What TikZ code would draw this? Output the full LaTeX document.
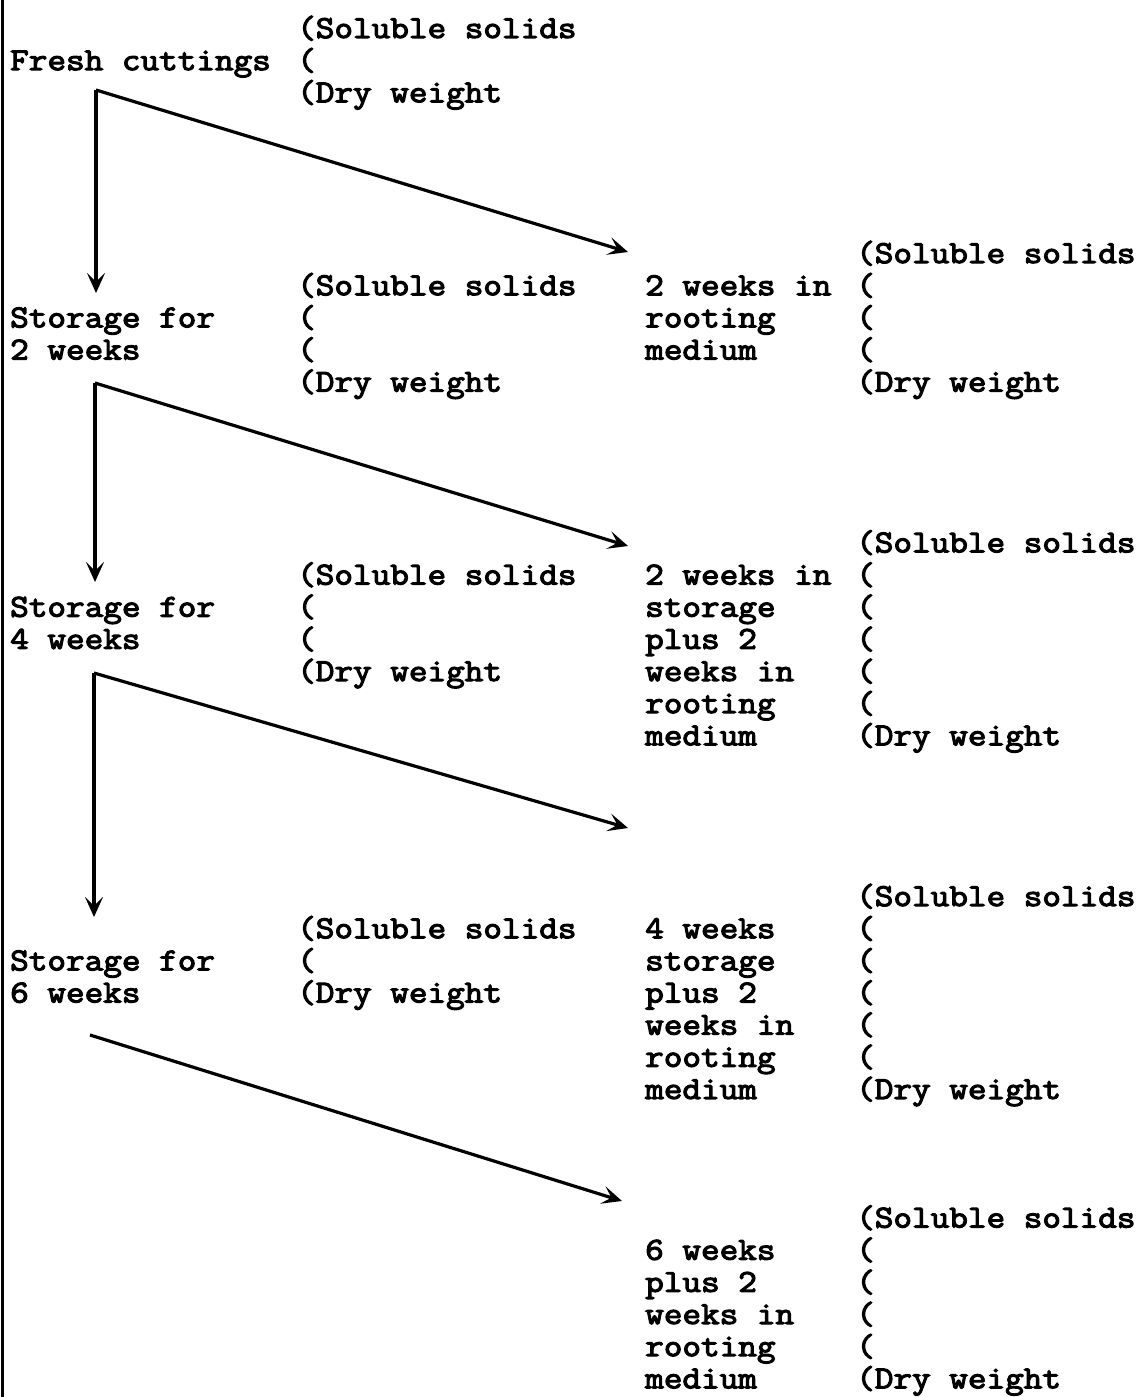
\documentclass[tikz,border=0pt]{standalone}
\usepackage{fontspec}
\newfontfamily\typewriter{Latin Modern Mono}[FakeBold=3.5,FakeStretch=1.13]
\usetikzlibrary{arrows.meta}
\newcommand{\typedlines}[1]{\vtop{\baselineskip=32.15pt\lineskiplimit=-100pt\lineskip=0pt\halign{##\hfil\cr#1\crcr}}}

\begin{document}
\begin{tikzpicture}[
            x=1pt,
            y=-1pt,
            typed/.style={inner sep=0pt,anchor=base west,font=\typewriter\fontsize{32}{32.15}\selectfont},
            flow/.style={line width=3.2pt,-{Stealth[length=20pt,width=18pt,inset=9pt]}}
        ]
            \useasboundingbox (0,0) rectangle (1145,1397);
            \draw[line width=3pt] (2,0) -- (2,1397);

            % left column (rows of 32.15 starting at baseline 38)
            \node[typed] (fresh)  at (10,{38+32.15*1})  {\typedlines{Fresh cuttings}};
            \node[typed] (store2) at (10,{38+32.15*9})  {\typedlines{Storage for\cr 2 weeks}};
            \node[typed] (store4) at (10,{38+32.15*18}) {\typedlines{Storage for\cr 4 weeks}};
            \node[typed] (store6) at (10,{38+32.15*29}) {\typedlines{Storage for\cr 6 weeks}};

            \node[typed] (meas0) at (297,{38+32.15*0})  {\typedlines{(Soluble solids\cr(\cr(Dry weight}};
            \node[typed] (meas2) at (297,{38+32.15*8})  {\typedlines{(Soluble solids\cr(\cr(\cr(Dry weight}};
            \node[typed] (meas4) at (297,{38+32.15*17}) {\typedlines{(Soluble solids\cr(\cr(\cr(Dry weight}};
            \node[typed] (meas6) at (297,{38+32.15*28}) {\typedlines{(Soluble solids\cr(\cr(Dry weight}};

            % rooting column
            \node[typed] (root0) at (645,{38+32.15*8})  {\typedlines{2 weeks in\cr rooting\cr medium}};
            \node[typed] (root2) at (645,{38+32.15*17}) {\typedlines{2 weeks in\cr storage\cr plus 2\cr weeks in\cr rooting\cr medium}};
            \node[typed] (root4) at (645,{38+32.15*28}) {\typedlines{4 weeks\cr storage\cr plus 2\cr weeks in\cr rooting\cr medium}};
            \node[typed] (root6) at (645,{38+32.15*38}) {\typedlines{6 weeks\cr plus 2\cr weeks in\cr rooting\cr medium}};

            \node[typed] (rmeas0) at (856,{38+32.15*7})  {\typedlines{(Soluble solids\cr(\cr(\cr(\cr(Dry weight}};
            \node[typed] (rmeas2) at (856,{38+32.15*16}) {\typedlines{(Soluble solids\cr(\cr(\cr(\cr(\cr(\cr(Dry weight}};
            \node[typed] (rmeas4) at (856,{38+32.15*27}) {\typedlines{(Soluble solids\cr(\cr(\cr(\cr(\cr(\cr(Dry weight}};
            \node[typed] (rmeas6) at (856,{38+32.15*37}) {\typedlines{(Soluble solids\cr(\cr(\cr(\cr(\cr(Dry weight}};

            % arrows
            \foreach \i/\cx/\cy/\ty in {1/96/90/293,2/95/383/582,3/94/673/917} {
                \coordinate (corner\i) at (\cx,\cy);
                \coordinate (down\i) at (\cx,\ty);
                \draw[flow] (corner\i) -- (down\i);
            }
            \coordinate (corner4) at (90,1035);
            \foreach \i/\ex/\ey in {1/628/252,2/628/546,3/628/828,4/622/1201} {
                \coordinate (side\i) at (\ex,\ey);
                \draw[flow] (corner\i) -- (side\i);
            }
        \end{tikzpicture}
\end{document}
